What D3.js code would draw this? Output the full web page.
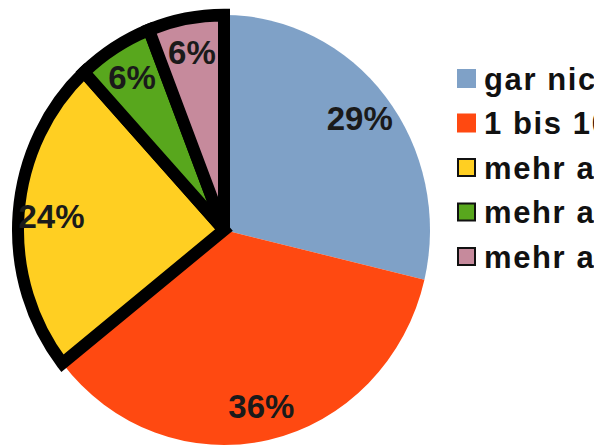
<!DOCTYPE html>
<html>
<head>
<meta charset="utf-8">
<script src="https://cdn.jsdelivr.net/npm/d3@7/dist/d3.min.js"></script>
<style>
  html, body { margin: 0; padding: 0; background: #fff; overflow: hidden; }
  svg { display: block; }
</style>
</head>
<body>
<svg id="chart" width="594" height="446"></svg>
<script>
// Share of answers per category (percent)
const categories = ["gar nicht", "1 bis 10 Mal", "mehr als 10 Mal", "mehr als 20 Mal", "mehr als 50 Mal"];
const shares = [29, 36, 24, 6, 6];
const colors = ["#7fa1c7", "#ff4911", "#ffcf22", "#58a71d", "#c68a9c"];
const outlined = [false, false, true, true, true];

const svg = d3.select("#chart");
const cx = 224, cy = 230;
const rx = 206, ry = 215;

const data = categories.map((c, i) => ({ name: c, value: shares[i], color: colors[i], outlined: outlined[i] }));

const pie = d3.pie().sort(null).value(d => d.value);
const arcs = pie(data);

const arc = d3.arc().innerRadius(0).outerRadius(rx);
const labelArc = d3.arc().innerRadius(rx * 0.84).outerRadius(rx * 0.84);

// Pie is slightly taller than wide
const g = svg.append("g")
  .attr("transform", `translate(${cx},${cy}) scale(1,${ry / rx})`);

// Plain slices first, outlined slices on top so their borders overlap neighbours
const order = arcs.filter(a => !a.data.outlined).concat(arcs.filter(a => a.data.outlined));
g.selectAll("path.slice")
  .data(order)
  .join("path")
  .attr("class", "slice")
  .attr("d", arc)
  .attr("fill", d => d.data.color)
  .attr("stroke", d => d.data.outlined ? "#000" : "none")
  .attr("stroke-width", 12)
  .attr("stroke-linejoin", "miter");

// Percentage labels
svg.append("g")
  .selectAll("text")
  .data(arcs)
  .join("text")
  .attr("transform", d => {
    const [x, y] = labelArc.centroid(d);
    return `translate(${cx + x},${cy + y * ry / rx})`;
  })
  .attr("text-anchor", "middle")
  .attr("dy", "0.36em")
  .attr("font-family", "'Liberation Sans', Arial, sans-serif")
  .attr("font-weight", "bold")
  .attr("font-size", 33)
  .attr("fill", "#1a1a1a")
  .text(d => d.data.value + "%");

// Legend (runs past the right edge of the canvas)
const legend = svg.append("g").attr("transform", "translate(457,69)");
const rowH = 44.5;
const rows = legend.selectAll("g")
  .data(data)
  .join("g")
  .attr("transform", (d, i) => `translate(0,${i * rowH})`);

rows.append("rect")
  .attr("x", d => d.outlined ? 1 : 0)
  .attr("y", d => d.outlined ? 1 : 0)
  .attr("width", d => d.outlined ? 17 : 19)
  .attr("height", d => d.outlined ? 17 : 19)
  .attr("fill", d => d.color)
  .attr("stroke", d => d.outlined ? "#111" : "none")
  .attr("stroke-width", 2);

rows.append("text")
  .attr("x", 27)
  .attr("y", 9.5)
  .attr("dy", "0.36em")
  .attr("font-family", "'Liberation Sans', Arial, sans-serif")
  .attr("font-weight", "bold")
  .attr("font-size", 31)
  .attr("letter-spacing", 1.6)
  .attr("fill", "#111")
  .text(d => d.name);
</script>
</body>
</html>
